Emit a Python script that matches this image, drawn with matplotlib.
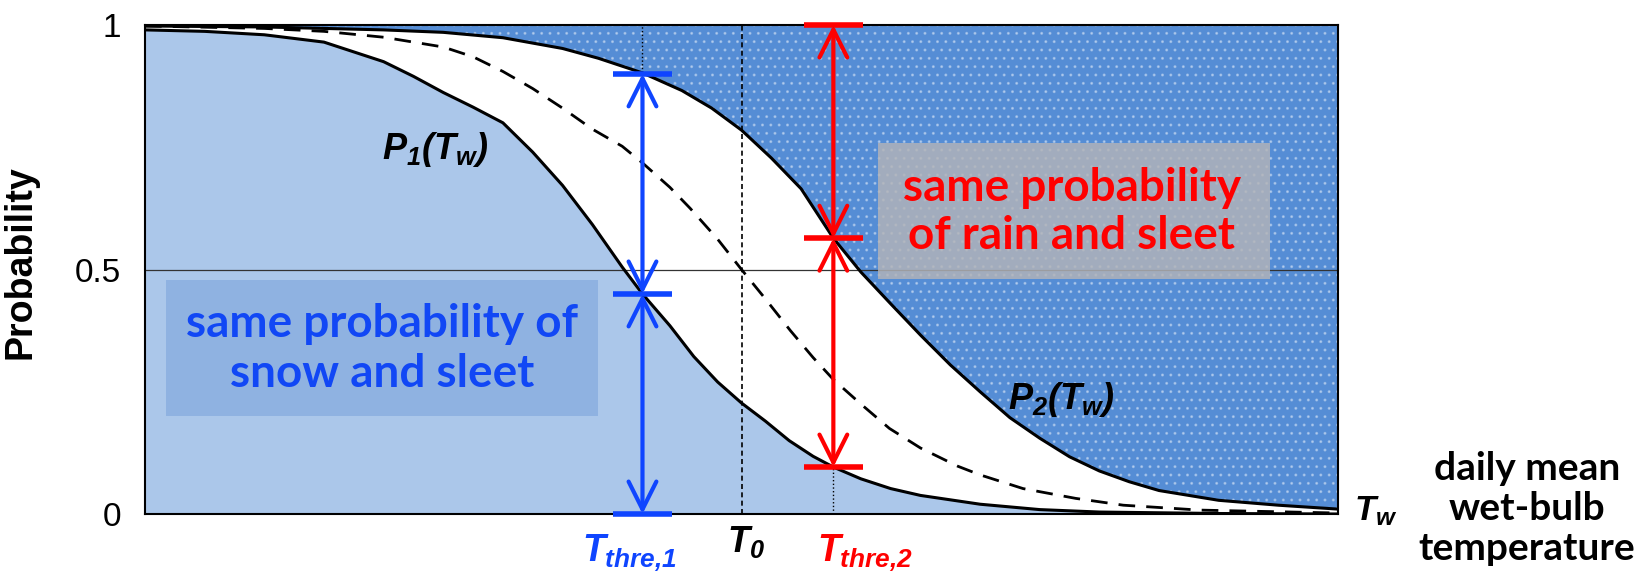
# plot.py
# Schematic of the two-threshold snow / sleet / rain partition on wet-bulb temperature

import matplotlib
matplotlib.use('Agg')
import matplotlib.pyplot as plt
from matplotlib.patches import Rectangle
import matplotlib.transforms as mtransforms

plt.rcParams['mathtext.fontset'] = 'custom'
plt.rcParams['mathtext.it'] = 'Liberation Sans:italic:bold'
plt.rcParams['mathtext.rm'] = 'Liberation Sans:italic:bold'
plt.rcParams['mathtext.bf'] = 'Liberation Sans:italic:bold'

# ── data (x = relative wet-bulb temperature, 0..1) ────────────────────────────
P2_X = [0.000, 0.100, 0.200, 0.250, 0.300, 0.350, 0.380, 0.417, 0.450, 0.475,
        0.500, 0.525, 0.550, 0.577, 0.600, 0.625, 0.650, 0.675, 0.700, 0.725,
        0.750, 0.775, 0.800, 0.825, 0.850, 0.875, 0.900, 0.950, 1.000]
P2_Y = [0.998, 0.996, 0.990, 0.985, 0.974, 0.952, 0.932, 0.902, 0.866, 0.830,
        0.785, 0.728, 0.665, 0.564, 0.495, 0.430, 0.366, 0.305, 0.250, 0.197,
        0.155, 0.117, 0.088, 0.066, 0.048, 0.038, 0.028, 0.018, 0.010]

P1_X = [0.000, 0.050, 0.100, 0.150, 0.200, 0.225, 0.250, 0.275, 0.300, 0.325,
        0.350, 0.375, 0.400, 0.417, 0.440, 0.460, 0.480, 0.500, 0.520, 0.540,
        0.560, 0.577, 0.600, 0.625, 0.650, 0.700, 0.750, 0.800, 0.900, 1.000]
P1_Y = [0.990, 0.987, 0.980, 0.965, 0.925, 0.895, 0.862, 0.832, 0.800, 0.740,
        0.672, 0.592, 0.505, 0.450, 0.385, 0.322, 0.270, 0.227, 0.190, 0.150,
        0.118, 0.096, 0.072, 0.052, 0.038, 0.020, 0.009, 0.004, 0.001, 0.000]

P0_X = [0.000, 0.100, 0.150, 0.200, 0.250, 0.275, 0.300, 0.325, 0.350, 0.375,
        0.400, 0.417, 0.440, 0.457, 0.480, 0.500, 0.520, 0.541, 0.560, 0.577,
        0.600, 0.624, 0.650, 0.681, 0.700, 0.736, 0.780, 0.820, 0.884, 1.000]
P0_Y = [0.998, 0.993, 0.987, 0.975, 0.955, 0.935, 0.905, 0.870, 0.830, 0.787,
        0.752, 0.718, 0.668, 0.625, 0.562, 0.500, 0.440, 0.375, 0.320, 0.275,
        0.225, 0.175, 0.135, 0.098, 0.080, 0.052, 0.032, 0.018, 0.008, 0.002]

T_THRE1 = 0.417
T_ZERO = 0.500
T_THRE2 = 0.577

BLUE_LEVELS = [0.0, 0.45, 0.90]     # P=0, P1(Tthre1), P2(Tthre1)
RED_LEVELS = [0.096, 0.564, 1.0]    # P1(Tthre2), P2(Tthre2), P=1

YTICKS = [0, 0.5, 1]
YTICKLABELS = ['0', '0.5', '1']

# ── colours ───────────────────────────────────────────────────────────────────
LIGHT = '#abc7ea'
DARK = '#558dd5'
SNOWBOX = '#8fb2e1'
BLUE = '#0f45ff'
RED = '#ff0000'

W, H = 1648, 579
fig = plt.figure(figsize=(W / 100, H / 100), dpi=100)
ax = fig.add_axes([145 / W, 65 / H, 1193 / W, 489 / H])
ax.set_xlim(0, 1)
ax.set_ylim(0, 1)

# regions
ax.fill_between(P1_X, 0, P1_Y, facecolor=LIGHT, linewidth=0, zorder=1)
ax.fill_between(P2_X, P2_Y, 1, facecolor=DARK, edgecolor='#ffffff55',
                hatch='..', linewidth=0, zorder=1)

# guide lines
ax.axhline(0.5, color='#333333', lw=0.9, zorder=2)
ax.axvline(T_ZERO, color='black', lw=1.2, ls=(0, (3, 2)), zorder=2)
for t in (T_THRE1, T_THRE2):
    ax.axvline(t, color='black', lw=1.0, ls=':', zorder=2)

# curves
ax.plot(P1_X, P1_Y, color='black', lw=2.2, zorder=3)
ax.plot(P2_X, P2_Y, color='black', lw=2.2, zorder=3)
ax.plot(P0_X, P0_Y, color='black', lw=2.0, ls=(0, (6, 4)), zorder=3)

# text boxes
ax.add_patch(Rectangle((0.018, 0.200), 0.362, 0.279, facecolor=SNOWBOX,
                       edgecolor='none', zorder=4))
ax.add_patch(Rectangle((0.614, 0.481), 0.329, 0.278, facecolor='#b4b4b8',
                       alpha=0.82, edgecolor='none', zorder=4))
ax.text(0.199, 0.337, 'same probability of\nsnow and sleet', color='#1147f5',
        family='Lato', fontweight='bold', fontsize=33, ha='center',
        va='center', linespacing=1.24, zorder=5)
ax.text(0.777, 0.617, 'same probability\nof rain and sleet', color=RED,
        family='Lato', fontweight='bold', fontsize=33, ha='center',
        va='center', linespacing=1.18, zorder=5)

# double arrows with caps
def bracket(x, levels, color):
    for lo, hi in zip(levels[:-1], levels[1:]):
        ax.annotate('', xy=(x, hi), xytext=(x, lo),
                    arrowprops=dict(arrowstyle='<->,head_length=2.0,head_width=1.0',
                                    mutation_scale=10, lw=3, color=color,
                                    shrinkA=0, shrinkB=0),
                    zorder=6, annotation_clip=False)
    for lv in levels:
        ax.plot([x - 0.025, x + 0.025], [lv, lv], color=color, lw=4,
                solid_capstyle='butt', zorder=6, clip_on=False)

bracket(T_THRE1, BLUE_LEVELS, BLUE)
bracket(T_THRE2, RED_LEVELS, RED)

# curve labels
ax.text(0.199, 0.745, r'$P_1(T_w)$', fontsize=26, ha='left', va='center', zorder=5)
ax.text(0.723, 0.235, r'$P_2(T_w)$', fontsize=26, ha='left', va='center', zorder=5)

# x "tick" labels
trans = mtransforms.blended_transform_factory(ax.transData, ax.transAxes)
ax.text(0.366, -0.098, r'$T_{thre{,}1}$', color=BLUE, fontsize=27,
        ha='left', va='baseline', transform=trans)
ax.text(0.488, -0.078, r'$T_0$', color='black', fontsize=26,
        ha='left', va='baseline', transform=trans)
ax.text(0.563, -0.098, r'$T_{thre{,}2}$', color=RED, fontsize=27,
        ha='left', va='baseline', transform=trans)
ax.text(1.013, -0.012, r'$T_w$', color='black', fontsize=25,
        ha='left', va='baseline', transform=trans, clip_on=False)

fig.text(1527 / W, 0.122, 'daily mean\nwet-bulb\ntemperature', family='Lato',
         fontweight='bold', fontsize=28, ha='center', va='center',
         linespacing=1.18)

# axes styling
ax.set_xticks([])
ax.set_yticks(YTICKS)
ax.set_yticklabels(YTICKLABELS, family='Liberation Sans', fontsize=24)
ax.tick_params(axis='y', length=0, pad=17)
for sp in ax.spines.values():
    sp.set_linewidth(1.5)
    sp.set_color('black')
    sp.set_zorder(5)
ax.set_ylabel('Probability', family='Liberation Sans', fontweight='bold',
              fontsize=27)
ax.yaxis.set_label_coords(-0.089, 0.515)

fig.savefig('out.png', dpi=100)
